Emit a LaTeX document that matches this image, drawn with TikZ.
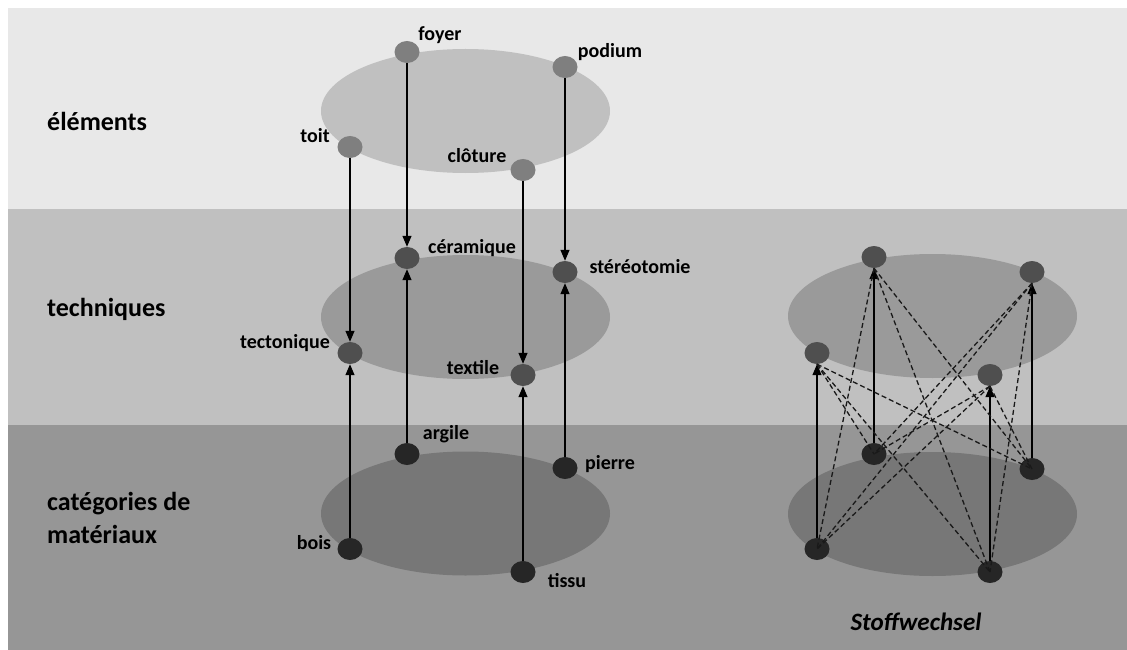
\documentclass[tikz,border=0pt]{standalone}
\usepackage{fontspec}
\setmainfont{Carlito}
\usetikzlibrary{shapes.geometric,arrows.meta}
\definecolor{bandA}{HTML}{E8E8E8}
\definecolor{bandB}{HTML}{C0C0C0}
\definecolor{bandC}{HTML}{969696}
\definecolor{ellA}{HTML}{C0C0C0}
\definecolor{ellB}{HTML}{9A9A9A}
\definecolor{ellC}{HTML}{777777}
\definecolor{dotA}{HTML}{7F7F7F}
\definecolor{dotB}{HTML}{4F4F4F}
\definecolor{dotC}{HTML}{262626}
\tikzset{
  dot/.style={ellipse,minimum width=25pt,minimum height=22pt,inner sep=0pt},
  dotup/.style={dot,fill=dotA},
  dotmid/.style={dot,fill=dotB},
  dotlow/.style={dot,fill=dotC},
  lbl/.style={font=\fontsize{20}{24}\selectfont\bfseries,inner sep=0pt},
  big/.style={font=\fontsize{26}{33}\selectfont\bfseries,inner sep=0pt,align=left},
  arr/.style={-{Triangle[length=11pt,width=9pt]},line width=1.3pt,black},
  dsh/.style={dash pattern=on 5pt off 3pt,line width=1.3pt,black!90},
}
\begin{document}
\begin{tikzpicture}[x=1pt,y=-1pt]
\useasboundingbox (0,0) rectangle (1127,650);
\fill[white] (0,0) rectangle (1127,650);
\fill[bandA] (8,8) rectangle (1127,209);
\fill[bandB] (8,209) rectangle (1127,425);
\fill[bandC] (8,425) rectangle (1127,650);
% ellipses
\fill[ellA] (465.5,111) ellipse [x radius=144.5, y radius=62];
\fill[ellB] (465.5,317) ellipse [x radius=144.5, y radius=62];
\fill[ellC] (465.5,513.5) ellipse [x radius=144.5, y radius=62];
\fill[ellB] (932.5,316) ellipse [x radius=144.5, y radius=62];
\fill[ellC] (932.5,514) ellipse [x radius=144.5, y radius=62];
% row titles
\node[big,anchor=west] (t1) at (47,121) {éléments};
\node[big,anchor=west] (t2) at (47,309) {techniques};
\node[big,anchor=west] (t3) at (47,518) {catégories de\\matériaux};
% left nodes
\node[dotup] (foyer) at (407,52) {};
\node[dotup] (podium) at (565,67) {};
\node[dotup] (toit) at (350,147) {};
\node[dotup] (cloture) at (523,170) {};
\node[dotmid] (ceram) at (407,258) {};
\node[dotmid] (stereo) at (565,272) {};
\node[dotmid] (tecto) at (350,353) {};
\node[dotmid] (textile) at (523,375) {};
\node[dotlow] (argile) at (407,454) {};
\node[dotlow] (pierre) at (565,468) {};
\node[dotlow] (bois) at (350,549) {};
\node[dotlow] (tissu) at (523,572) {};
% left arrows
\draw[arr] (foyer) -- (ceram);
\draw[arr] (podium) -- (stereo);
\draw[arr] (toit) -- (tecto);
\draw[arr] (cloture) -- (textile);
\draw[arr] (argile) -- (ceram);
\draw[arr] (pierre) -- (stereo);
\draw[arr] (bois) -- (tecto);
\draw[arr] (tissu) -- (textile);
% labels
\node[lbl] (lfoyer) at (440,35) {foyer};
\node[lbl] (lpodium) at (610,52) {podium};
\node[lbl] (ltoit) at (315,136) {toit};
\node[lbl] (lcloture) at (477,156) {clôture};
\node[lbl] (lceram) at (472,248) {céramique};
\node[lbl] (lstereo) at (640,267) {stéréotomie};
\node[lbl] (ltecto) at (285,343) {tectonique};
\node[lbl] (ltextile) at (473,368) {textile};
\node[lbl] (largile) at (446,434) {argile};
\node[lbl] (lpierre) at (610,464) {pierre};
\node[lbl] (lbois) at (314,543) {bois};
\node[lbl] (ltissu) at (567,581) {tissu};
% right diagram
\node[dotmid] (ra) at (874,257) {};
\node[dotmid] (rb) at (1032,272) {};
\node[dotmid] (rc) at (817,353) {};
\node[dotmid] (rd) at (990,375) {};
\node[dotlow] (ma) at (874,454) {};
\node[dotlow] (mb) at (1032,469) {};
\node[dotlow] (mc) at (817,549) {};
\node[dotlow] (md) at (990,572) {};
\draw[arr] (ma) -- (ra);
\draw[arr] (mb) -- (rb);
\draw[arr] (mc) -- (rc);
\draw[arr] (md) -- (rd);
\foreach \t/\m in {ra/mb,ra/mc,ra/md,rb/ma,rb/mc,rb/md,rc/ma,rc/mb,rc/md,rd/ma,rd/mb,rd/mc}{
  \draw[dsh] (\t.south) -- (\m.center);
}
\node[lbl,font=\fontsize{25}{30}\selectfont\bfseries\itshape] (stoff) at (916,622) {Stoffwechsel};
\end{tikzpicture}
\end{document}
